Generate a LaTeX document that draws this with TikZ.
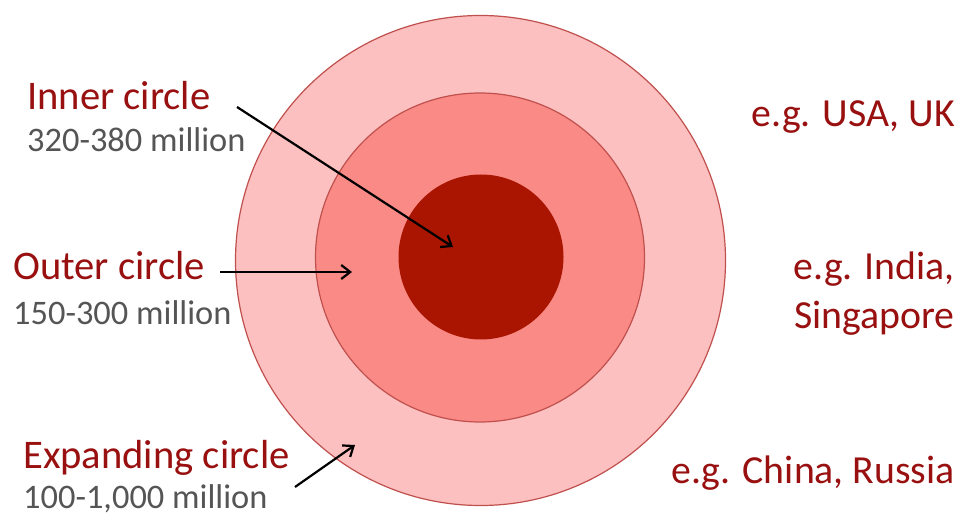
\documentclass[tikz,border=0pt]{standalone}
\usepackage{fontspec}
\setmainfont{Carlito}
\usetikzlibrary{arrows.meta}
\definecolor{ringA}{HTML}{FCC0C0}
\definecolor{ringB}{HTML}{F98A86}
\definecolor{ringC}{HTML}{A91500}
\definecolor{ringline}{HTML}{C0504D}
\definecolor{titlered}{HTML}{98100F}
\definecolor{numgray}{HTML}{555555}
\tikzset{
  ring/.style={circle, inner sep=0pt, outer sep=0pt, draw=ringline, line width=1.2pt},
  titletext/.style={anchor=base west, inner sep=0pt, text=titlered, font=\fontsize{40.6}{48}\selectfont},
  numtext/.style={anchor=base west, inner sep=0pt, text=numgray, font=\fontsize{34.4}{41}\selectfont},
  egtext/.style={anchor=base east, inner sep=0pt, text=titlered, font=\fontsize{39.8}{47}\selectfont},
  pointer/.style={draw=black, line width=2.2pt, -{Straight Barb[length=9pt,width=14pt,line width=2.2pt]}}
}
\begin{document}
\begin{tikzpicture}[x=1pt,y=-1pt]
\useasboundingbox (0,0) rectangle (963,518);
\node[ring, fill=ringA, minimum size=490pt] (outer) at (480.5,260.5) {};
\node[ring, fill=ringB, minimum size=329pt] (middle) at (480,257.5) {};
\node[circle, inner sep=0pt, fill=ringC, minimum size=165pt] (inner) at (481,257) {};

\node[titletext] (t1) at (27,110) {Inner circle};
\node[numtext] (n1) at (27,152) {320-380 million};
\node[titletext] (t2) at (13,280) {Outer circle};
\node[numtext] (n2) at (13,325) {150-300 million};
\node[titletext] (t3) at (23,468) {Expanding circle};
\node[numtext] (n3) at (23,508) {100-1,000 million};

\node[egtext] (e1) at (955,127) {e.g. USA, UK};
\node[egtext] (e2) at (955,280) {e.g. India,};
\node[egtext] (e3) at (955,328) {Singapore};
\node[egtext] (e4) at (955,483) {e.g. China, Russia};

\coordinate (a1s) at (237,107);
\coordinate (a1e) at (453,247);
\coordinate (a2s) at (220,272);
\coordinate (a2e) at (352,272);
\coordinate (a3s) at (295,487);
\coordinate (a3e) at (355,445);
\draw[pointer] (a1s) -- (a1e);
\draw[pointer] (a2s) -- (a2e);
\draw[pointer] (a3s) -- (a3e);
\end{tikzpicture}
\end{document}
